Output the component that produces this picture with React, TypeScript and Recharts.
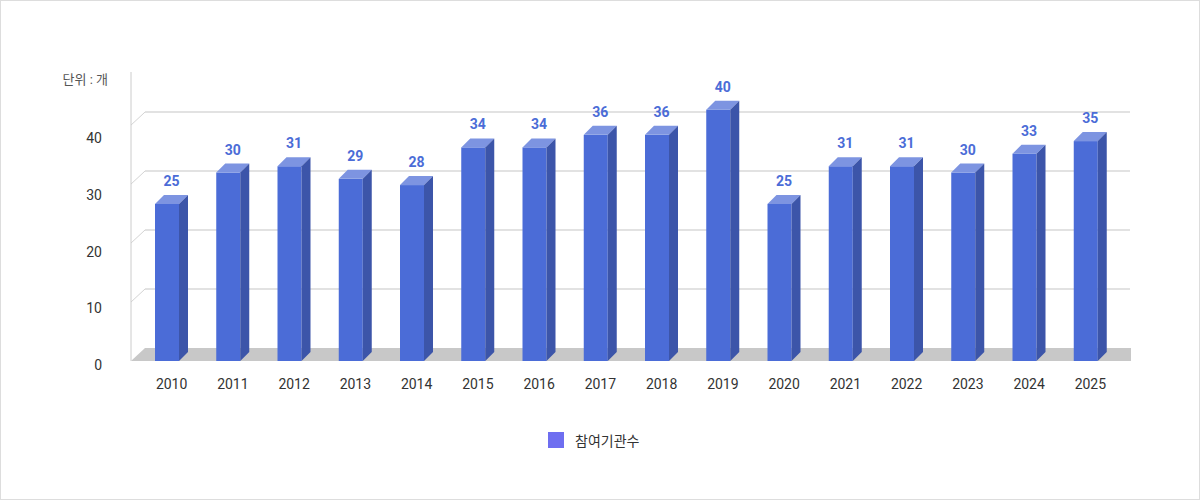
import React from 'react';
import { ComposedChart, Bar, Line, XAxis, YAxis, CartesianGrid, LabelList, Legend } from 'recharts';

const years = ['2010', '2011', '2012', '2013', '2014', '2015', '2016', '2017', '2018', '2019', '2020', '2021', '2022', '2023', '2024', '2025'];
const institutions = [25, 30, 31, 29, 28, 34, 34, 36, 36, 40, 25, 31, 31, 30, 33, 35];
const yTicks = [0, 10, 20, 30, 40];

const data = years.map((year, i) => ({ year, value: institutions[i] }));

const FRONT = '#4b6cd7';
const SIDE = '#3c55a9';
const TOP = '#7d94e1';
const DEPTH = 9;
const FONT = "Roboto, 'Noto Sans CJK KR', sans-serif";

const Bar3D = (props: any) => {
  const { x, y, width, height } = props;
  const d = DEPTH;
  return (
    <g>
      <rect x={x} y={y} width={width} height={height} fill={FRONT} />
      <polygon points={`${x},${y} ${x + d},${y - d} ${x + width + d},${y - d} ${x + width},${y}`} fill={TOP} />
      <polygon
        points={`${x + width},${y} ${x + width + d},${y - d} ${x + width + d},${y + height - d} ${x + width},${y + height}`}
        fill={SIDE}
      />
    </g>
  );
};

// back-wall grid: the front point slants back to the wall; the bottom line becomes the floor
const GridLine = (props: any) => {
  const { x1, y1, x2, offset } = props;
  const dx = 14;
  const dy = 13;
  if (offset && Math.abs(y1 - offset.top) < 1) return null;
  if (offset && Math.abs(y1 - (offset.top + offset.height)) < 1) {
    return <polygon points={`${x1},${y1} ${x1 + dx},${y1 - dy} ${x2 + 15},${y1 - dy} ${x2 + 15},${y1}`} fill="#c8c8c8" />;
  }
  return (
    <g>
      <line x1={x1} y1={y1} x2={x1 + dx} y2={y1 - dy} stroke="#d4d4d4" strokeWidth={1} />
      <line x1={x1 + dx} y1={y1 - dy} x2={x2 + dx} y2={y1 - dy} stroke="#e2e2e2" strokeWidth={2} />
    </g>
  );
};

const YTick = (props: any) => {
  const { x, y, payload } = props;
  return (
    <text x={x} y={y + 4} textAnchor="end" dominantBaseline="central" fill="#333" fontSize={14} fontFamily={FONT}>
      {payload.value}
    </text>
  );
};

const ValueLabel = (props: any) => {
  const { x, y, width, value } = props;
  return (
    <text
      x={x + width / 2 + DEPTH / 2}
      y={y - 23}
      textAnchor="middle"
      dominantBaseline="central"
      fill={FRONT}
      fontSize={14}
      fontWeight={700}
      fontFamily={FONT}
    >
      {value}
    </text>
  );
};

const LegendContent = () => (
  <div style={{ display: 'flex', alignItems: 'center', paddingLeft: 547, fontFamily: FONT }}>
    <span style={{ width: 16, height: 16, background: '#6e6ef0', display: 'inline-block' }} />
    <span style={{ marginLeft: 11, fontSize: 14, color: '#333' }}>참여기관수</span>
  </div>
);

export default function App() {
  return (
    <div
      style={{
        position: 'absolute',
        left: 0,
        top: 0,
        width: 1200,
        height: 500,
        boxSizing: 'border-box',
        border: '1px solid #dddddd',
        background: '#fff',
        fontFamily: FONT,
      }}
    >
      <div style={{ position: 'absolute', left: 0, width: 107, top: 68, textAlign: 'right', fontSize: 13, color: '#555' }}>
        단위 : 개
      </div>
      <ComposedChart width={1198} height={498} data={data} margin={{ top: 71, right: 83, bottom: 108, left: 0 }}>
        <CartesianGrid yAxisId="grid" vertical={false} horizontal={(p: any) => <GridLine {...p} />} />
        <XAxis
          dataKey="year"
          padding={{ left: 5, right: 0 }}
          axisLine={false}
          tickLine={false}
          height={30}
          tickMargin={12}
          tick={{ fill: '#333', fontSize: 14, dx: 5 }}
        />
        <YAxis
          yAxisId="label"
          type="number"
          width={130}
          domain={[0, 51]}
          allowDataOverflow
          ticks={yTicks}
          interval={0}
          axisLine={{ stroke: '#cccccc' }}
          tickLine={false}
          tickMargin={23}
          tick={<YTick />}
        />
        <YAxis yAxisId="grid" type="number" hide width={0} domain={[0, 49]} allowDataOverflow ticks={yTicks} interval={0} />
        <YAxis yAxisId="bar" type="number" hide width={0} domain={[0, 46]} allowDataOverflow />
        <Line yAxisId="label" dataKey="value" stroke="none" dot={false} activeDot={false} legendType="none" isAnimationActive={false} />
        <Line yAxisId="grid" dataKey="value" stroke="none" dot={false} activeDot={false} legendType="none" isAnimationActive={false} />
        <Bar yAxisId="bar" dataKey="value" name="참여기관수" barSize={24} shape={<Bar3D />} isAnimationActive={false}>
          <LabelList dataKey="value" content={<ValueLabel />} />
        </Bar>
        <Legend
          verticalAlign="middle"
          content={<LegendContent />}
          wrapperStyle={{ left: 0, top: 429, width: 1198 }}
        />
      </ComposedChart>
    </div>
  );
}
